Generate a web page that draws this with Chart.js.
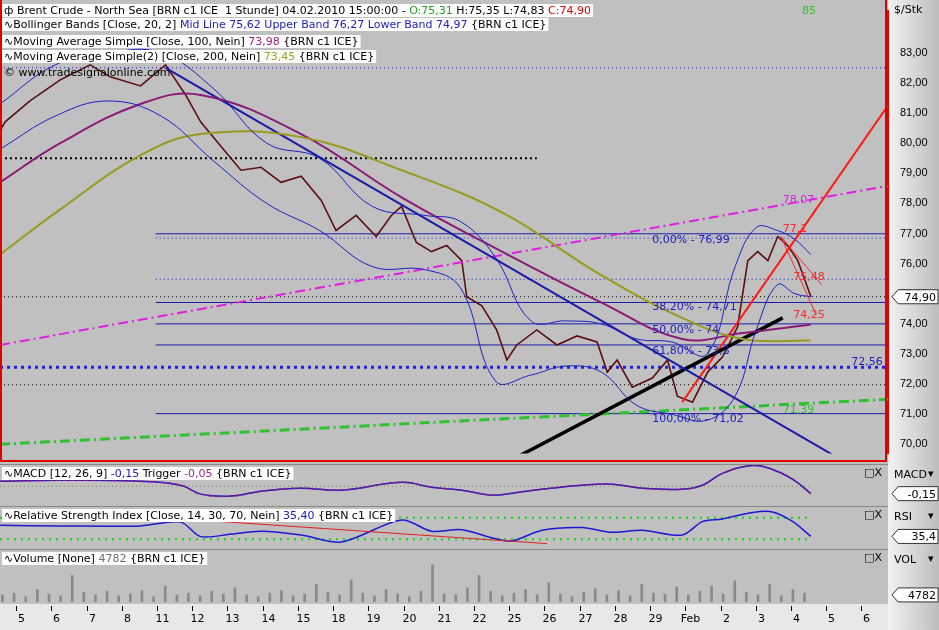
<!DOCTYPE html>
<html>
<head>
<meta charset="utf-8">
<script src="https://cdn.jsdelivr.net/npm/chart.js@4.4.0/dist/chart.umd.min.js"></script>
<style>
  body { margin: 0; background: #fff; font-family: Tahoma, "DejaVu Sans", sans-serif; }
  #wrap { position: relative; width: 939px; height: 630px; background: #c0c0c0; overflow: hidden; }
  .pane { position: absolute; left: 0; width: 939px; }
  .pane canvas { display: block; }
  #frame { position: absolute; left: 0; top: 0; width: 887px; height: 462px; border: 2px solid #e00000; border-top: none; box-sizing: border-box; pointer-events: none; }
</style>
</head>
<body>
<div id="wrap">
  <div class="pane" style="top:0;height:464px"><canvas id="mainChart"></canvas></div>
  <div class="pane" style="top:464px;height:42px"><canvas id="macdChart"></canvas></div>
  <div class="pane" style="top:506px;height:43px"><canvas id="rsiChart"></canvas></div>
  <div class="pane" style="top:549px;height:81px"><canvas id="volChart"></canvas></div>
  <div id="frame"></div>
</div>
<script>
// x axis: trading day index (0 = Jan 5)
const dayLabels = ['5','6','7','8','11','12','13','14','15','18','19','20','21','22','25','26','27','28','29','Feb','2','3','4','5','6'];
const priceTicks = [70, 71, 72, 73, 74, 75, 76, 77, 78, 79, 80, 81, 82, 83];

// Brent close (hourly chart, read at intervals)
const priceDays = [-0.57, -0.43, 0.28, 1.14, 1.99, 2.56, 3.42, 4.13, 4.70, 5.13, 5.70, 6.27, 6.84, 7.41, 7.98, 8.55, 8.97, 9.54, 10.11, 10.54, 10.83, 11.25, 11.68, 12.11, 12.54, 12.68, 13.11, 13.53, 13.82, 14.10, 14.67, 15.24, 15.81, 16.38, 16.67, 16.95, 17.38, 17.95, 18.38, 18.66, 19.09, 19.52, 19.94, 20.37, 20.66, 20.94, 21.23, 21.51, 21.79, 22.08, 22.36, 22.45];
const priceClose = [80.4, 80.7, 81.4, 82.1, 82.6, 82.2, 81.9, 82.6, 81.6, 80.7, 79.9, 79.1, 79.2, 78.7, 78.9, 78.1, 77.1, 77.6, 76.9, 77.6, 77.9, 76.7, 76.4, 76.6, 76.1, 74.9, 74.6, 73.8, 72.8, 73.3, 73.8, 73.3, 73.6, 73.4, 72.4, 72.8, 71.9, 72.2, 72.8, 71.6, 71.4, 72.4, 72.9, 73.9, 76.1, 76.4, 76.1, 76.9, 76.6, 76.1, 75.2, 74.9];

// Bollinger upper / lower (coarse)
const bbDays = [-0.57, 1.0, 2.5, 4.0, 5.5, 7.0, 8.5, 10.0, 11.5, 12.5, 13.5, 14.5, 15.5, 16.5, 17.5, 18.5, 19.5, 20.3, 20.9, 21.5, 22.0, 22.45];
const bbUpper = [81.3, 82.6, 83.0, 83.0, 81.8, 80.0, 79.5, 77.9, 77.6, 77.4, 76.2, 74.1, 74.1, 74.0, 73.5, 73.4, 73.0, 75.9, 77.2, 77.1, 76.8, 76.3];
const bbLower = [79.8, 80.9, 81.4, 80.9, 79.4, 78.0, 77.1, 75.9, 75.8, 75.2, 72.1, 72.3, 72.6, 72.4, 71.3, 71.0, 70.8, 71.6, 73.8, 75.3, 75.0, 74.9];

// moving averages
const maDays = [-0.57, 1.14, 3.42, 5.13, 7.98, 10.83, 13.68, 16.52, 18.8, 20.51, 22.45];
const ma100 = [78.7, 80.0, 81.3, 81.6, 80.3, 78.2, 76.4, 74.7, 73.5, 73.7, 73.98];
const ma200 = [76.3, 77.8, 79.6, 80.3, 80.2, 79.1, 77.7, 75.6, 74.2, 73.5, 73.45];

// MACD / RSI (read at intervals)
const oscDays = [-0.57, 1.14, 3.42, 4.56, 5.13, 6.0, 6.84, 7.98, 9.12, 10.83, 11.68, 12.54, 13.39, 13.96, 14.82, 15.95, 16.81, 17.66, 18.8, 19.37, 19.94, 20.8, 21.36, 21.94, 22.45];
const macdLine = [0.10, 0.12, 0.10, 0.02, -0.16, -0.20, -0.10, -0.04, -0.08, 0.08, -0.02, -0.08, -0.18, -0.14, -0.06, 0.02, 0.04, -0.04, -0.06, 0.02, 0.26, 0.42, 0.34, 0.14, -0.15];
const rsiValues = [56, 55, 55, 62, 35, 40, 45, 38, 25, 66, 45, 48, 33, 27, 47, 52, 43, 47, 38, 63, 68, 80, 81, 63, 35.4];
const rsiTrendDays = [4.13, 14.96];
const rsiTrendValues = [70, 22];

// Volume (sampled)
const volDays = [];
const volValues = [8, 10, 6, 14, 9, 7, 30, 11, 8, 12, 7, 9, 13, 6, 18, 8, 10, 7, 12, 9, 16, 8, 6, 10, 13, 7, 9, 20, 11, 8, 25, 10, 7, 14, 9, 6, 12, 42, 9, 8, 16, 30, 12, 7, 10, 14, 8, 22, 9, 6, 11, 15, 8, 13, 7, 20, 10, 9, 17, 8, 12, 18, 9, 24, 11, 8, 20, 7, 14, 10];
for (let i = 0; i < volValues.length; i++) volDays.push(-0.5 + i * 0.33);

// drawing tools on the price pane
const tools = [
  { d: [4.13, 23.59], v: [82.5, 69.3], c: '#1a1aa8', w: 2 },             // falling trend
  { d: [13.82, 21.65], v: [69.4, 74.2], c: '#000000', w: 3.5 },          // black arrow
  { d: [18.8, 24.73], v: [71.4, 81.4], c: '#ff1a1a', w: 2 },             // red rising
  { d: [-0.57, 24.73], v: [73.3, 78.6], c: '#e020e0', w: 2, dash: [10, 4, 2, 4] },
  { d: [-0.57, 24.73], v: [70.0, 71.5], c: '#30c030', w: 3, dash: [10, 4, 2, 4] },
  { d: [21.6, 22.6], v: [76.9, 74.3], c: '#ff2a2a', w: 1 },
  { d: [21.6, 22.75], v: [76.9, 75.3], c: '#ff2a2a', w: 1 }
];
const fibLevels = [76.99, 74.71, 74.0, 73.3, 71.02];
const dottedLevels = [
  { v: 82.5, c: '#2020b0', from: -0.57 },
  { v: 75.48, c: '#2020b0', from: 3.85 },
  { v: 76.85, c: '#2020b0', from: 3.85 },
  { v: 71.98, c: '#000000', from: -0.57 },
  { v: 74.9, c: '#000000', from: -0.57 }
];

const xMin = -0.57, xMax = 24.64;
const comma = (v, n) => v.toFixed(n).replace('.', ',');
const fitRight = axis => { axis.width = 51; };

function pts(xs, ys) { return xs.map((x, i) => ({ x, y: ys[i] })); }

function baseX() {
  return { type: 'linear', min: xMin, max: xMax, display: false, offset: false };
}

const bgPlugin = {
  id: 'bg',
  beforeDraw(chart) {
    const { ctx, chartArea: a } = chart;
    ctx.save();
    ctx.fillStyle = '#c0c0c0';
    ctx.fillRect(0, 0, chart.width, chart.height);
    const g = ctx.createLinearGradient(a.right, 0, chart.width, 0);
    g.addColorStop(0, '#f2f2f2'); g.addColorStop(1, '#bdbdbd');
    ctx.fillStyle = g;
    ctx.fillRect(a.right, 0, chart.width - a.right, chart.height);
    ctx.restore();
  }
};

function drawText(ctx, parts, x, y, bg) {
  ctx.font = '11px Tahoma, "DejaVu Sans", sans-serif';
  let w = 0;
  parts.forEach(p => { w += ctx.measureText(p[0]).width; });
  if (bg) { ctx.fillStyle = '#ffffff'; ctx.fillRect(x - 2, y - 10, w + 4, 13); }
  parts.forEach(p => { ctx.fillStyle = p[1]; ctx.fillText(p[0], x, y); x += ctx.measureText(p[0]).width; });
}

function tag(ctx, chart, text, y) {
  const x = chart.chartArea.right + 4;
  ctx.save();
  ctx.font = '11px Tahoma, "DejaVu Sans", sans-serif';
  ctx.fillStyle = '#fff'; ctx.strokeStyle = '#333';
  ctx.beginPath();
  ctx.moveTo(x, y); ctx.lineTo(x + 6, y - 7); ctx.lineTo(x + 46, y - 7); ctx.lineTo(x + 46, y + 7); ctx.lineTo(x + 6, y + 7); ctx.closePath();
  ctx.fill(); ctx.stroke();
  ctx.fillStyle = '#000'; ctx.textAlign = 'right';
  ctx.fillText(text, x + 44, y + 4);
  ctx.restore();
}

const mainTextPlugin = {
  id: 'mainText',
  afterDatasetsDraw(chart) {
    const { ctx, scales: { x, y } } = chart;
    ctx.save();
    drawText(ctx, [['ф Brent Crude - North Sea [BRN c1 ICE  1 Stunde] 04.02.2010 15:00:00 - ', '#000'], ['O:75,31', '#20a020'], [' H:75,35 L:74,83 ', '#000'], ['C:74,90', '#e00000']], 4, 14, true);
    drawText(ctx, [['∿Bollinger Bands [Close, 20, 2] ', '#000'], ['Mid Line 75,62 Upper Band 76,27 Lower Band 74,97', '#2020c0'], [' {BRN c1 ICE}', '#000']], 4, 28, true);
    drawText(ctx, [['∿Moving Average Simple [Close, 100, Nein] ', '#000'], ['73,98', '#a0208a'], [' {BRN c1 ICE}', '#000']], 4, 45, true);
    drawText(ctx, [['∿Moving Average Simple(2) [Close, 200, Nein] ', '#000'], ['73,45', '#a0a020'], [' {BRN c1 ICE}', '#000']], 4, 60, true);
    drawText(ctx, [['© www.tradesignalonline.com', '#000']], 4, 76, false);
    const lbl = (t, d, v, c) => { ctx.fillStyle = c; ctx.fillText(t, x.getPixelForValue(d), y.getPixelForValue(v)); };
    ctx.font = '11px Tahoma, "DejaVu Sans", sans-serif';
    lbl('0,00% - 76,99', 17.95, 76.7, '#2020c0');
    lbl('38,20% - 74,71', 17.95, 74.45, '#2020c0');
    lbl('50,00% - 74', 17.95, 73.7, '#2020c0');
    lbl('61,80% - 73,3', 17.95, 73.0, '#2020c0');
    lbl('100,00% - 71,02', 17.95, 70.75, '#2020c0');
    lbl('72,56', 23.6, 72.65, '#2020c0');
    lbl('77,1', 21.65, 77.05, '#ff2a2a');
    lbl('75,48', 21.95, 75.45, '#ff2a2a');
    lbl('74,25', 21.95, 74.2, '#ff2a2a');
    lbl('78,07', 21.65, 78.0, '#e020e0');
    lbl('71,39', 21.65, 71.05, '#30c030');
    lbl('85', 22.2, 84.3, '#30c030');
    ctx.fillStyle = '#000';
    ctx.fillText('$/Stk', chart.chartArea.right + 6, 13);
    ctx.restore();
    tag(ctx, chart, '74,90', y.getPixelForValue(74.9));
  }
};

function horiz(v, from, to, color, width, dash) {
  return { type: 'line', data: [{ x: from, y: v }, { x: to, y: v }], borderColor: color, borderWidth: width, borderDash: dash || [], pointRadius: 0, tension: 0, order: 5 };
}

const mainSets = [];
fibLevels.forEach(v => mainSets.push(horiz(v, 3.85, xMax, '#1a1aa8', 1)));
dottedLevels.forEach(l => mainSets.push(horiz(l.v, l.from, xMax, l.c, 1, [1, 3])));
mainSets.push(horiz(79.5, -0.57, 14.67, '#000', 2, [2, 3]));
mainSets.push(horiz(72.56, -0.57, xMax, '#2020e0', 3, [3, 4]));
mainSets.push(horiz(84.5, 17.5, 19.0, '#30c030', 3, [10, 4, 2, 4]));
mainSets.push({ type: 'line', data: pts(bbDays, bbUpper), borderColor: '#2020c0', borderWidth: 1, pointRadius: 0, tension: 0.4 });
mainSets.push({ type: 'line', data: pts(bbDays, bbLower), borderColor: '#2020c0', borderWidth: 1, pointRadius: 0, tension: 0.4 });
mainSets.push({ type: 'line', data: pts(maDays, ma200), borderColor: '#9a9a20', borderWidth: 2, pointRadius: 0, tension: 0.4 });
mainSets.push({ type: 'line', data: pts(maDays, ma100), borderColor: '#8a1a7a', borderWidth: 2, pointRadius: 0, tension: 0.4 });
tools.forEach(t => mainSets.push({ type: 'line', data: pts(t.d, t.v), borderColor: t.c, borderWidth: t.w, borderDash: t.dash || [], pointRadius: 0, tension: 0 }));
mainSets.push({ type: 'line', data: pts(priceDays, priceClose), borderColor: '#5a1010', borderWidth: 1.6, pointRadius: 0, tension: 0 });

new Chart(document.getElementById('mainChart'), {
  type: 'line',
  data: { datasets: mainSets },
  options: {
    responsive: true, maintainAspectRatio: false, animation: false,
    layout: { padding: 0 },
    plugins: { legend: { display: false }, tooltip: { enabled: false } },
    scales: {
      x: baseX(),
      y: {
        position: 'right', min: 69.70, max: 84.40, afterFit: fitRight,
        grid: { display: false }, border: { color: '#e00000', width: 2 },
        afterBuildTicks: s => { s.ticks = priceTicks.map(v => ({ value: v })); },
        ticks: { color: '#000', font: { size: 11 }, padding: 4, callback: v => comma(v, 2) }
      }
    }
  },
  plugins: [bgPlugin, mainTextPlugin]
});

const dayAxisPlugin = {
  id: 'dayAxis',
  afterDraw(chart) {
    const { ctx, chartArea: a, scales: { x } } = chart;
    ctx.save();
    ctx.fillStyle = '#e8e8e8';
    ctx.fillRect(0, a.bottom + 2, a.right, chart.height - a.bottom - 2);
    ctx.strokeStyle = '#000'; ctx.fillStyle = '#000';
    ctx.font = '11px Tahoma, "DejaVu Sans", sans-serif';
    ctx.textAlign = 'center';
    dayLabels.forEach((t, i) => {
      const p = Math.round(x.getPixelForValue(i)) - 3.5;
      ctx.beginPath(); ctx.moveTo(p, a.bottom + 4); ctx.lineTo(p, a.bottom + 9); ctx.stroke();
      ctx.fillText(t, p + 5, a.bottom + 20);
    });
    ctx.restore();
  }
};

function subPane(id, sets, yOpts, label, tagText, tagVal, title, bottomPad) {
  new Chart(document.getElementById(id), {
    type: 'line',
    data: { datasets: sets },
    options: {
      responsive: true, maintainAspectRatio: false, animation: false,
      layout: { padding: { bottom: bottomPad } },
      plugins: { legend: { display: false }, tooltip: { enabled: false } },
      scales: {
        x: baseX(),
        y: Object.assign({ position: 'right', afterFit: fitRight, grid: { display: false }, border: { display: false }, ticks: { display: false } }, yOpts)
      }
    },
    plugins: [bgPlugin, {
      id: id + 'Text',
      afterDatasetsDraw(chart) {
        const { ctx, chartArea: a, scales: { y } } = chart;
        ctx.save();
        ctx.strokeStyle = '#888'; ctx.lineWidth = 1;
        ctx.beginPath(); ctx.moveTo(0, a.top + 0.5); ctx.lineTo(a.right, a.top + 0.5); ctx.stroke();
        drawText(ctx, title, 4, a.top + 13, true);
        ctx.fillStyle = '#000'; ctx.font = '11px Tahoma, "DejaVu Sans", sans-serif';
        ctx.fillText(label, a.right + 6, a.top + 14);
        ctx.fillText('▾', a.right + 40, a.top + 13);
        ctx.fillText('□X', a.right - 24, a.top + 12);
        ctx.restore();
        tag(ctx, chart, tagText, y.getPixelForValue(tagVal));
      }
    }].concat(bottomPad ? [dayAxisPlugin] : [])
  });
}

subPane('macdChart', [
  horiz(0, xMin, 22.45, '#808060', 1, [1, 3]),
  { type: 'line', data: pts(oscDays, macdLine), borderColor: '#8a1a7a', borderWidth: 1.5, borderDash: [4, 3], pointRadius: 0, tension: 0.4 },
  { type: 'line', data: pts(oscDays, macdLine), borderColor: '#1a1ad0', borderWidth: 1.5, pointRadius: 0, tension: 0.4 }
], { min: -0.4, max: 0.45 }, 'MACD', '-0,15', -0.15,
  [['∿MACD [12, 26, 9] ', '#000'], ['-0,15', '#2020c0'], [' Trigger ', '#000'], ['-0,05', '#a0208a'], [' {BRN c1 ICE}', '#000']], 0);

subPane('rsiChart', [
  horiz(70, xMin, 22.45, '#30d030', 2.5, [2, 5]),
  horiz(30, xMin, 22.45, '#30d030', 2.5, [2, 5]),
  { type: 'line', data: pts(rsiTrendDays, rsiTrendValues), borderColor: '#e02020', borderWidth: 1, pointRadius: 0 },
  { type: 'line', data: pts(oscDays, rsiValues), borderColor: '#1a1ad0', borderWidth: 1.5, pointRadius: 0, tension: 0.3 }
], { min: 12, max: 92 }, 'RSI', '35,4', 35.4,
  [['∿Relative Strength Index [Close, 14, 30, 70, Nein] ', '#000'], ['35,40', '#2020c0'], [' {BRN c1 ICE}', '#000']], 0);

subPane('volChart', [
  { type: 'bar', data: pts(volDays, volValues), backgroundColor: '#8a8a8a', barThickness: 2, categoryPercentage: 1, barPercentage: 1 }
], { min: 0, max: 60 }, 'VOL', '4782', 8,
  [['∿Volume [None] ', '#000'], ['4782', '#707070'], [' {BRN c1 ICE}', '#000']], 28);
</script>
</body>
</html>
